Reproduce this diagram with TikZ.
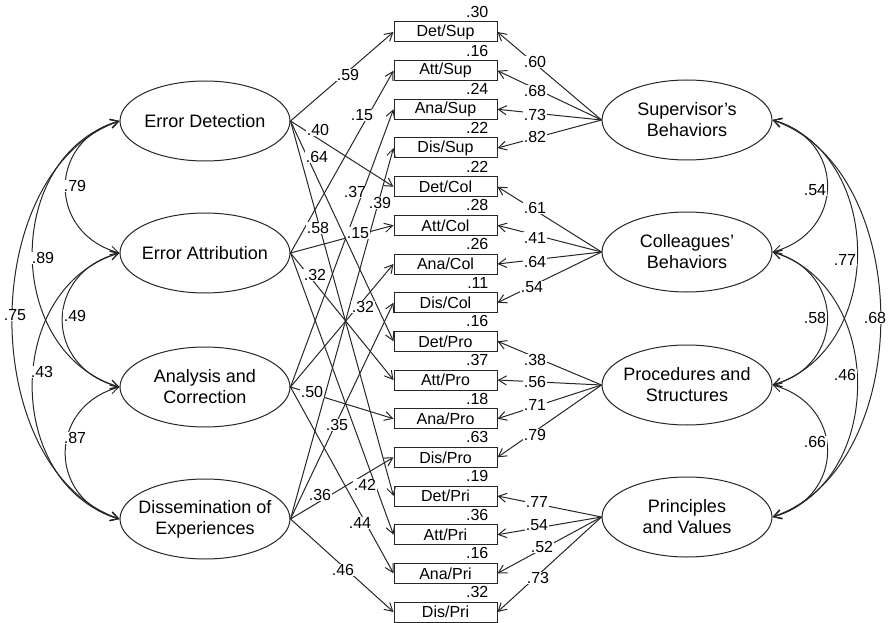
\documentclass[tikz,border=0pt]{standalone}
\usepackage{fontspec}
\setmainfont{Liberation Sans}
\usetikzlibrary{shapes.geometric,arrows.meta}
\begin{document}
\begin{tikzpicture}[x=1pt,y=-1pt,
 lat/.style={ellipse,draw=black!85,line width=1pt,minimum width=170pt,minimum height=80pt,inner sep=0pt},
 lattxt/.style={align=center,font=\fontsize{18}{21}\selectfont,inner sep=0pt},
 obs/.style={rectangle,draw=black!85,line width=1pt,minimum width=103pt,minimum height=20pt,inner sep=0pt,font=\fontsize{16}{18}\selectfont},
 ld/.style={draw=black!85,line width=1pt,-{Straight Barb[length=8pt,width=9pt]}},
 corr/.style={draw=black!85,line width=1pt,{Straight Barb[length=8pt,width=9pt]}-{Straight Barb[length=8pt,width=9pt]}},
 lab/.style={font=\fontsize{16}{18}\selectfont,fill=white,inner sep=0.5pt},
 rsq/.style={font=\fontsize{16}{18}\selectfont,inner sep=0pt,anchor=base east}
]
\useasboundingbox (0,0) rectangle (889,623);

% latent factors (left)
\node[lat] (ED) at (205,121) {};
\node[lat] (EA) at (205,253) {};
\node[lat] (AC) at (205,387) {};
\node[lat] (DE) at (205,519) {};
\node[lattxt] (EDt) at (ED) {Error Detection};
\node[lattxt] (EAt) at (EA) {Error Attribution};
\node[lattxt] (ACt) at (AC) {Analysis and\\Correction};
\node[lattxt] (DEt) at (DE) {Dissemination of\\Experiences};

% latent factors (right)
\node[lat] (SB) at (687,120) {};
\node[lat] (CB) at (687,252) {};
\node[lat] (PS) at (687,385) {};
\node[lat] (PV) at (687,517) {};
\node[lattxt] (SBt) at (SB) {Supervisor's\\Behaviors};
\node[lattxt] (CBt) at (CB) {Colleagues'\\Behaviors};
\node[lattxt] (PSt) at (PS) {Procedures and\\Structures};
\node[lattxt] (PVt) at (PV) {Principles\\and Values};

% observed
\node[obs] (DetSup) at (445.5,32) {Det/Sup};
\node[obs] (AttSup) at (445.5,70.7) {Att/Sup};
\node[obs] (AnaSup) at (445.5,109.3) {Ana/Sup};
\node[obs] (DisSup) at (445.5,148) {Dis/Sup};
\node[obs] (DetCol) at (445.5,186.7) {Det/Col};
\node[obs] (AttCol) at (445.5,225.3) {Att/Col};
\node[obs] (AnaCol) at (445.5,264) {Ana/Col};
\node[obs] (DisCol) at (445.5,302.7) {Dis/Col};
\node[obs] (DetPro) at (445.5,341.3) {Det/Pro};
\node[obs] (AttPro) at (445.5,380) {Att/Pro};
\node[obs] (AnaPro) at (445.5,418.7) {Ana/Pro};
\node[obs] (DisPro) at (445.5,457.3) {Dis/Pro};
\node[obs] (DetPri) at (445.5,496) {Det/Pri};
\node[obs] (AttPri) at (445.5,534.7) {Att/Pri};
\node[obs] (AnaPri) at (445.5,573.3) {Ana/Pri};
\node[obs] (DisPri) at (445.5,612) {Dis/Pri};

% R squared
\node[rsq] (q1) at ([xshift=-9pt,yshift=4pt]DetSup.north east) {.30};
\node[rsq] (q2) at ([xshift=-9pt,yshift=4pt]AttSup.north east) {.16};
\node[rsq] (q3) at ([xshift=-9pt,yshift=4pt]AnaSup.north east) {.24};
\node[rsq] (q4) at ([xshift=-9pt,yshift=4pt]DisSup.north east) {.22};
\node[rsq] (q5) at ([xshift=-9pt,yshift=4pt]DetCol.north east) {.22};
\node[rsq] (q6) at ([xshift=-9pt,yshift=4pt]AttCol.north east) {.28};
\node[rsq] (q7) at ([xshift=-9pt,yshift=4pt]AnaCol.north east) {.26};
\node[rsq] (q8) at ([xshift=-9pt,yshift=4pt]DisCol.north east) {.11};
\node[rsq] (q9) at ([xshift=-9pt,yshift=4pt]DetPro.north east) {.16};
\node[rsq] (q10) at ([xshift=-9pt,yshift=4pt]AttPro.north east) {.37};
\node[rsq] (q11) at ([xshift=-9pt,yshift=4pt]AnaPro.north east) {.18};
\node[rsq] (q12) at ([xshift=-9pt,yshift=4pt]DisPro.north east) {.63};
\node[rsq] (q13) at ([xshift=-9pt,yshift=4pt]DetPri.north east) {.19};
\node[rsq] (q14) at ([xshift=-9pt,yshift=4pt]AttPri.north east) {.36};
\node[rsq] (q15) at ([xshift=-9pt,yshift=4pt]AnaPri.north east) {.16};
\node[rsq] (q16) at ([xshift=-9pt,yshift=4pt]DisPri.north east) {.32};

% left loadings
\draw[ld] (ED.east) -- (DetSup.west);
\draw[ld] (ED.east) -- (DetCol.west);
\draw[ld] (ED.east) -- (DetPro.west);
\draw[ld] (ED.east) -- (DetPri.west);
\draw[ld] (EA.east) -- (AttSup.west);
\draw[ld] (EA.east) -- (AttCol.west);
\draw[ld] (EA.east) -- (AttPro.west);
\draw[ld] (EA.east) -- (AttPri.west);
\draw[ld] (AC.east) -- (AnaSup.west);
\draw[ld] (AC.east) -- (AnaCol.west);
\draw[ld] (AC.east) -- (AnaPro.west);
\draw[ld] (AC.east) -- (AnaPri.west);
\draw[ld] (DE.east) -- (DisSup.west);
\draw[ld] (DE.east) -- (DisCol.west);
\draw[ld] (DE.east) -- (DisPro.west);
\draw[ld] (DE.east) -- (DisPri.west);

% right loadings
\draw[ld] (SB.west) -- (DetSup.east);
\draw[ld] (SB.west) -- (AttSup.east);
\draw[ld] (SB.west) -- (AnaSup.east);
\draw[ld] (SB.west) -- (DisSup.east);
\draw[ld] (CB.west) -- (DetCol.east);
\draw[ld] (CB.west) -- (AttCol.east);
\draw[ld] (CB.west) -- (AnaCol.east);
\draw[ld] (CB.west) -- (DisCol.east);
\draw[ld] (PS.west) -- (DetPro.east);
\draw[ld] (PS.west) -- (AttPro.east);
\draw[ld] (PS.west) -- (AnaPro.east);
\draw[ld] (PS.west) -- (DisPro.east);
\draw[ld] (PV.west) -- (DetPri.east);
\draw[ld] (PV.west) -- (AttPri.east);
\draw[ld] (PV.west) -- (AnaPri.east);
\draw[ld] (PV.west) -- (DisPri.east);

% correlations left
\draw[corr] (ED.west) .. controls +(-72,20) and +(-72,-20) .. (EA.west);
\draw[corr] (ED.west) .. controls +(-116,35) and +(-116,-35) .. (AC.west);
\draw[corr] (ED.west) .. controls +(-143,50) and +(-143,-50) .. (DE.west);
\draw[corr] (EA.west) .. controls +(-76,20) and +(-76,-20) .. (AC.west);
\draw[corr] (EA.west) .. controls +(-116,35) and +(-116,-35) .. (DE.west);
\draw[corr] (AC.west) .. controls +(-72,20) and +(-72,-20) .. (DE.west);

% correlations right
\draw[corr] (SB.east) .. controls +(73,20) and +(73,-20) .. (CB.east);
\draw[corr] (SB.east) .. controls +(113,35) and +(113,-35) .. (PS.east);
\draw[corr] (SB.east) .. controls +(144,50) and +(144,-50) .. (PV.east);
\draw[corr] (CB.east) .. controls +(73,20) and +(73,-20) .. (PS.east);
\draw[corr] (CB.east) .. controls +(113,35) and +(113,-35) .. (PV.east);
\draw[corr] (PS.east) .. controls +(73,20) and +(73,-20) .. (PV.east);

% labels: left correlations
\node[lab] (c1) at (75,186) {.79};
\node[lab] (c2) at (43,258) {.89};
\node[lab] (c3) at (15,315) {.75};
\node[lab] (c4) at (75,316) {.49};
\node[lab] (c5) at (42,372) {.43};
\node[lab] (c6) at (75,438) {.87};
% labels: right correlations
\node[lab] (c7) at (815,190) {.54};
\node[lab] (c8) at (845,260) {.77};
\node[lab] (c9) at (875,318) {.68};
\node[lab] (c10) at (815,318) {.58};
\node[lab] (c11) at (845,375) {.46};
\node[lab] (c12) at (815,442) {.66};

% labels: left loadings
\node[lab] (a1) at (348,75) {.59};
\node[lab] (a2) at (318,130) {.40};
\node[lab] (a3) at (317,157) {.64};
\node[lab] (a4) at (318,228) {.58};
\node[lab] (a5) at (362,115) {.15};
\node[lab] (a6) at (358,233) {.15};
\node[lab] (a7) at (315,275) {.32};
\node[lab] (a8) at (365,485) {.42};
\node[lab] (a9) at (355,192) {.37};
\node[lab] (a10) at (363,307) {.32};
\node[lab] (a11) at (312,392) {.50};
\node[lab] (a12) at (360,523) {.44};
\node[lab] (a13) at (380,203) {.39};
\node[lab] (a14) at (337,425) {.35};
\node[lab] (a15) at (320,495) {.36};
\node[lab] (a16) at (343,570) {.46};

% labels: right loadings
\node[lab] (b1) at (535,62) {.60};
\node[lab] (b2) at (535,91) {.68};
\node[lab] (b3) at (535,115) {.73};
\node[lab] (b4) at (535,137) {.82};
\node[lab] (b5) at (535,208) {.61};
\node[lab] (b6) at (535,238) {.41};
\node[lab] (b7) at (535,262) {.64};
\node[lab] (b8) at (532,287) {.54};
\node[lab] (b9) at (535,360) {.38};
\node[lab] (b10) at (535,382) {.56};
\node[lab] (b11) at (535,405) {.71};
\node[lab] (b12) at (535,435) {.79};
\node[lab] (b13) at (537,502) {.77};
\node[lab] (b14) at (537,525) {.54};
\node[lab] (b15) at (542,547) {.52};
\node[lab] (b16) at (538,578) {.73};
\end{tikzpicture}
\end{document}
